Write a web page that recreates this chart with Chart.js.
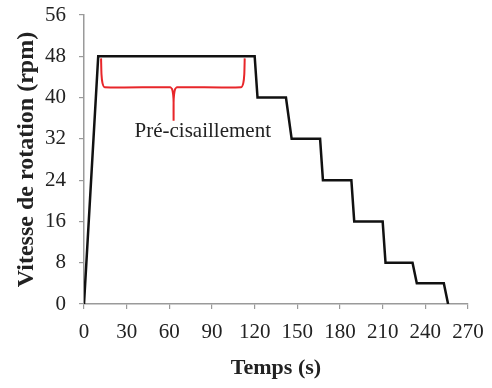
<!DOCTYPE html>
<html>
<head>
<meta charset="utf-8">
<script src="https://cdn.jsdelivr.net/npm/chart.js@4/dist/chart.umd.min.js"></script>
<style>
  html, body { margin: 0; padding: 0; background: #fff; }
  #wrap { width: 492px; height: 388px; }
</style>
</head>
<body>
<div id="wrap"><canvas id="c" width="492" height="388"></canvas></div>
<script>
// Main protocol curve: time (s) and rotation speed (rpm)
const times  = [0, 10, 120, 122, 142, 146, 166, 168, 188, 190, 210, 212, 231, 234, 253, 256];
const speeds = [0, 48, 48, 40, 40, 32, 32, 24, 24, 16, 16, 8, 8, 4, 4, 0];

// Red brace marking the pre-shear phase
const braceX = [12, 12.3, 13, 14.5, 60.5, 62, 62.7, 63, 63, 63, 63.3, 64, 65.5, 110.5, 112, 112.7, 113];
const braceY = [47.6, 44.5, 42.8, 42, 42, 41.6, 40.5, 39, 35.5, 39, 40.5, 41.6, 42, 42, 42.8, 44.5, 47.6];

// Annotation label and its anchor (data units)
const braceLabel = 'Pré-cisaillement';
const braceLabelPos = { x: 83.5, y: 33.4 };

// Axis ticks
const xTicks = [0, 30, 60, 90, 120, 150, 180, 210, 240, 270];
const yTicks = [0, 8, 16, 24, 32, 40, 48, 56];
const xTitle = 'Temps (s)';
const yTitle = 'Vitesse de rotation (rpm)';

const serif = "'Liberation Serif', 'Times New Roman', serif";
const axisGray = '#9a9a9a';
const textCol = '#222';

const toPts = (xs, ys) => xs.map((x, i) => ({ x: x, y: ys[i] }));

const labelPlugin = {
  id: 'braceLabel',
  afterDatasetsDraw(chart) {
    const { ctx, scales } = chart;
    const px = scales.x.getPixelForValue(braceLabelPos.x);
    const py = scales.y.getPixelForValue(braceLabelPos.y);
    ctx.save();
    ctx.font = "21px " + serif;
    ctx.fillStyle = textCol;
    ctx.textAlign = 'center';
    ctx.textBaseline = 'middle';
    ctx.fillText(braceLabel, px, py);
    ctx.restore();
  }
};

new Chart(document.getElementById('c'), {
  type: 'line',
  data: {
    datasets: [
      {
        data: toPts(times, speeds),
        borderColor: '#111',
        borderWidth: 2.5,
        pointRadius: 0,
        tension: 0,
        fill: false,
        order: 1
      },
      {
        data: toPts(braceX, braceY),
        borderColor: '#e8262a',
        borderWidth: 2,
        pointRadius: 0,
        tension: 0.2,
        fill: false,
        order: 2
      }
    ]
  },
  options: {
    responsive: false,
    animation: false,
    devicePixelRatio: 1,
    layout: { padding: { top: 15, right: 24, left: 0, bottom: 0 } },
    plugins: { legend: { display: false }, tooltip: { enabled: false } },
    scales: {
      x: {
        type: 'linear',
        min: 0, max: 270,
        afterBuildTicks(scale) { scale.ticks = xTicks.map(v => ({ value: v })); },
        afterFit(scale) { scale.height = 84; scale.paddingLeft = 0; scale.paddingRight = 0; },
        border: { display: true, color: axisGray, width: 1.5 },
        grid: { drawOnChartArea: false, drawTicks: true, tickLength: 5, color: axisGray, lineWidth: 1.2 },
        ticks: { color: textCol, font: { family: serif, size: 21 }, padding: 11, maxRotation: 0, autoSkip: false },
        title: { display: true, text: xTitle, color: textCol, font: { family: serif, size: 22, weight: 'bold' }, padding: { top: 0, bottom: 6 } }
      },
      y: {
        type: 'linear',
        min: 0, max: 56,
        afterBuildTicks(scale) { scale.ticks = yTicks.map(v => ({ value: v })); },
        afterFit(scale) { scale.width = 84; scale.paddingTop = 0; scale.paddingBottom = 0; },
        border: { display: true, color: axisGray, width: 1.5 },
        grid: { drawOnChartArea: false, drawTicks: true, tickLength: 5, color: axisGray, lineWidth: 1.2 },
        ticks: { color: textCol, font: { family: serif, size: 21 }, padding: 13, autoSkip: false },
        title: { display: true, text: yTitle, color: textCol, font: { family: serif, size: 24, weight: 'bold' }, padding: { top: 12, bottom: 0 } }
      }
    }
  },
  plugins: [labelPlugin]
});
</script>
</body>
</html>
